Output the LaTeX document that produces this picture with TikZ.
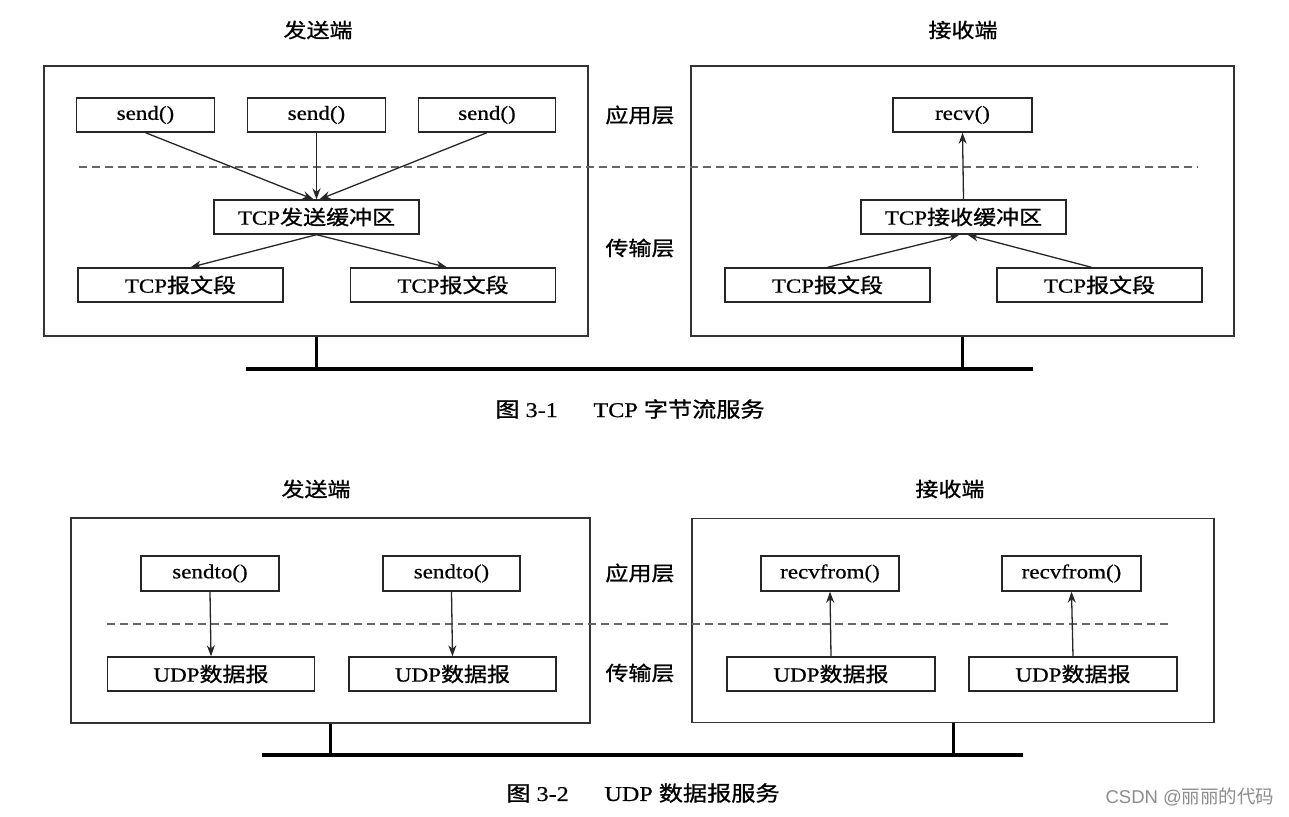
\documentclass[tikz,border=0pt]{standalone}
\usepackage{fontspec}
\setmainfont[FakeStretch=1.15,FakeBold=0.6]{Liberation Serif}
\newfontfamily\zhfont[FakeStretch=1.15,FakeBold=1]{Noto Sans CJK SC}
\newfontfamily\wmzhfont{Noto Sans CJK SC}
\newfontfamily\wmfont{Liberation Sans}
\newcommand{\zh}[1]{{\zhfont #1}}
\usetikzlibrary{arrows.meta}

\begin{document}
\begin{tikzpicture}[
    x=1pt, y=-1pt,
    host/.style={draw=black!80, line width=1.5pt, inner sep=0pt},
    module/.style={draw=black!85, line width=1.4pt, minimum height=34pt,
      inner sep=0pt, font=\fontsize{20}{24}\selectfont},
    zhtext/.style={inner sep=0pt, font=\zhfont\fontsize{20}{24}\selectfont},
    captext/.style={inner sep=0pt, font=\fontsize{21}{25}\selectfont},
    arrow/.style={-{Stealth[length=11pt, width=8pt]}, line width=1.3pt, draw=black!85},
    layerline/.style={dash pattern=on 8pt off 5pt, line width=1.3pt, draw=black!60},
    bus/.style={line width=4pt},
    stub/.style={line width=3pt},
    ]
    \useasboundingbox (0,0) rectangle (1289,816);

    % TCP byte stream
    \node[zhtext] (tcpsnd) at (318,30) {发送端};
    \node[zhtext] (tcprcv) at (963,30) {接收端};
    \node[host, minimum width=544pt, minimum height=270pt] (tcphostS) at (316,201) {};
    \node[host, minimum width=543pt, minimum height=270pt] (tcphostR) at (962.5,201) {};

    \node[module, minimum width=138pt] (send1) at (145.5,115) {send()};
    \node[module, minimum width=138pt] (send2) at (316.5,115) {send()};
    \node[module, minimum width=137pt] (send3) at (487,115) {send()};
    \node[module, minimum width=205pt] (sbuf) at (316.5,217) {TCP\zh{发送缓冲区}};
    \node[module, minimum width=205pt] (sseg1) at (180.5,285) {TCP\zh{报文段}};
    \node[module, minimum width=205pt] (sseg2) at (453,285) {TCP\zh{报文段}};

    \node[module, minimum width=139pt] (recv) at (962.5,115) {recv()};
    \node[module, minimum width=205pt] (rbuf) at (963.5,217) {TCP\zh{接收缓冲区}};
    \node[module, minimum width=205pt] (rseg1) at (827.5,285) {TCP\zh{报文段}};
    \node[module, minimum width=205pt] (rseg2) at (1099.5,285) {TCP\zh{报文段}};

    \node[zhtext] (tcpapp) at (640,115) {应用层};
    \node[zhtext] (tcptrans) at (640,248) {传输层};

    \coordinate (tcpdashL) at (79,167);
    \coordinate (tcpdashR) at (1198,167);
    \draw[layerline] (tcpdashL) -- (tcpdashR);

    \draw[arrow] (send1.south) -- ([xshift=-3pt]sbuf.north);
    \draw[arrow] (send2.south) -- (sbuf.north);
    \draw[arrow] (send3.south) -- ([xshift=3pt]sbuf.north);
    \draw[arrow] (sbuf.south) -- ([xshift=10pt]sseg1.north);
    \draw[arrow] (sbuf.south) -- ([xshift=-6pt]sseg2.north);
    \draw[arrow] (rbuf.north) -- (recv.south);
    \draw[arrow] (rseg1.north) -- ([xshift=-4pt]rbuf.south);
    \draw[arrow] ([xshift=-8pt]rseg2.north) -- ([xshift=4pt]rbuf.south);

    \coordinate (tcpbusL) at (246,369);
    \coordinate (tcpbusR) at (1033,369);
    \draw[bus] (tcpbusL) -- (tcpbusR);
    \draw[stub] (tcphostS.south) -- (tcphostS.south |- tcpbusL);
    \draw[stub] (tcphostR.south) -- (tcphostR.south |- tcpbusL);

    \node[captext] (tcpcap) at (630,409) {\zh{图} 3-1\hspace{1.7em}TCP \zh{字节流服务}};

    % UDP datagram
    \node[zhtext] (udpsnd) at (316,489) {发送端};
    \node[zhtext] (udprcv) at (950,489) {接收端};
    \node[host, minimum width=519pt, minimum height=205pt] (udphostS) at (330.5,620.5) {};
    \node[host, minimum width=522pt, minimum height=204pt] (udphostR) at (953,620.5) {};

    \node[module, minimum width=138pt, minimum height=35pt] (sendto1) at (210,573.5) {sendto()};
    \node[module, minimum width=137pt, minimum height=35pt] (sendto2) at (451.5,573.5) {sendto()};
    \node[module, minimum width=207pt] (sdgram1) at (211,674) {UDP\zh{数据报}};
    \node[module, minimum width=207pt] (sdgram2) at (452.5,674) {UDP\zh{数据报}};

    \node[module, minimum width=138pt, minimum height=35pt] (recvfrom1) at (830,573.5) {recvfrom()};
    \node[module, minimum width=139pt, minimum height=35pt] (recvfrom2) at (1071.5,573.5) {recvfrom()};
    \node[module, minimum width=208pt] (rdgram1) at (831,674) {UDP\zh{数据报}};
    \node[module, minimum width=208pt] (rdgram2) at (1073,674) {UDP\zh{数据报}};

    \node[zhtext] (udpapp) at (640,573) {应用层};
    \node[zhtext] (udptrans) at (640,673) {传输层};

    \coordinate (udpdashL) at (107,624);
    \coordinate (udpdashR) at (1170,624);
    \draw[layerline] (udpdashL) -- (udpdashR);

    \draw[arrow] (sendto1.south) -- (sdgram1.north);
    \draw[arrow] (sendto2.south) -- (sdgram2.north);
    \draw[arrow] (rdgram1.north) -- (recvfrom1.south);
    \draw[arrow] (rdgram2.north) -- (recvfrom2.south);

    \coordinate (udpbusL) at (262,755);
    \coordinate (udpbusR) at (1023,755);
    \draw[bus] (udpbusL) -- (udpbusR);
    \draw[stub] (udphostS.south) -- (udphostS.south |- udpbusL);
    \draw[stub] (udphostR.south) -- (udphostR.south |- udpbusL);

    \node[captext] (udpcap) at (643,793) {\zh{图} 3-2\hspace{1.7em}UDP \zh{数据报服务}};

    \node[inner sep=0pt, text=black!45, font=\wmfont\fontsize{18.5}{22}\selectfont]
      (mark) at (1190,797) {CSDN @{\wmzhfont 丽丽的代码}};
\end{tikzpicture}
\end{document}
